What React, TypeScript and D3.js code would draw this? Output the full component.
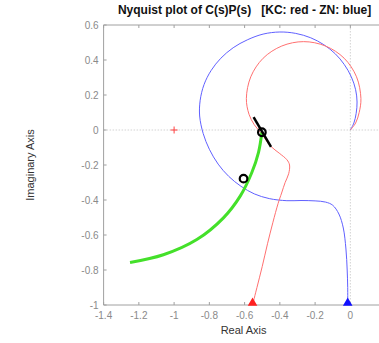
import React from "react";
import * as d3 from "d3";

const xTicks = [-1.4, -1.2, -1, -0.8, -0.6, -0.4, -0.2, 0];
const yTicks = [-1, -0.8, -0.6, -0.4, -0.2, 0, 0.2, 0.4, 0.6];

const blueX = [-0.015, -0.015, -0.018, -0.025, -0.04, -0.065, -0.1, -0.14, -0.2, -0.28, -0.36, -0.46, -0.545, -0.62, -0.69, -0.75, -0.8, -0.835, -0.855, -0.852, -0.83, -0.79, -0.735, -0.665, -0.585, -0.495, -0.4, -0.31, -0.225, -0.15, -0.085, -0.035, 0.005, 0.03, 0.038, 0.033, 0.02, 0];
const blueY = [-1.0, -0.9, -0.8, -0.68, -0.56, -0.48, -0.43, -0.412, -0.405, -0.403, -0.404, -0.392, -0.365, -0.322, -0.265, -0.195, -0.11, -0.02, 0.08, 0.17, 0.26, 0.34, 0.41, 0.47, 0.515, 0.548, 0.56, 0.552, 0.527, 0.487, 0.435, 0.375, 0.305, 0.23, 0.16, 0.095, 0.04, 0];

const redX = [-0.555, -0.53, -0.5, -0.47, -0.44, -0.41, -0.39, -0.37, -0.35, -0.345, -0.36, -0.4, -0.455, -0.502, -0.545, -0.575, -0.59, -0.565, -0.495, -0.389, -0.265, -0.141, -0.035, 0.035, 0.06, 0.05, 0.03, 0];
const redY = [-1.0, -0.9, -0.78, -0.65, -0.53, -0.42, -0.36, -0.3, -0.25, -0.2, -0.17, -0.135, -0.09, -0.023, 0.03, 0.09, 0.18, 0.304, 0.41, 0.48, 0.505, 0.48, 0.41, 0.304, 0.18, 0.1, 0.04, 0];

const greenX = [-1.25, -1.061, -0.871, -0.72, -0.625, -0.559, -0.521, -0.502];
const greenY = [-0.757, -0.713, -0.626, -0.502, -0.378, -0.243, -0.128, -0.013];

const circleX = [-0.502, -0.606];
const circleY = [-0.013, -0.278];
const segX = [-0.549, -0.45];
const segY = [0.073, -0.096];
const critX = [-1];
const critY = [0];
const startX = [-0.555, -0.015];
const startY = [-1, -1];
const startColor = ["#ff2020", "#1010ff"];

const W = 379, H = 343;
const L = 103.6, R = 385.6, T = 25, B = 305;

export default function App() {
  const x = d3.scaleLinear().domain([-1.4, 0.2]).range([L, R]);
  const y = d3.scaleLinear().domain([-1, 0.6]).range([B, T]);
  const line = d3.line<[number, number]>().x(d => x(d[0])).y(d => y(d[1])).curve(d3.curveCatmullRom.alpha(0.5));
  const pts = (xs: number[], ys: number[]) => xs.map((v, i) => [v, ys[i]] as [number, number]);
  const font = "Liberation Sans, Arial, Helvetica, sans-serif";
  const axisCol = "#a0a0a0";
  const labCol = "#8a8a8a";
  const tri = d3.symbol(d3.symbolTriangle, 40)();
  return (
    <svg width={W} height={H} style={{ position: "absolute", left: 0, top: 0, background: "#fff" }} fontFamily={font}>
      <defs>
        <clipPath id="clip"><rect x={L} y={T} width={R - L} height={B - T} /></clipPath>
      </defs>
      <line x1={x(0)} x2={x(0)} y1={T} y2={B} stroke="#c8c8c8" strokeDasharray="1.5,1.5" strokeWidth={0.8} />
      <line x1={L} x2={R} y1={y(0)} y2={y(0)} stroke="#c8c8c8" strokeDasharray="1.5,1.5" strokeWidth={0.8} />
      <line x1={L} x2={R} y1={B} y2={B} stroke={axisCol} strokeWidth={1} />
      <line x1={L} x2={R} y1={T} y2={T} stroke={axisCol} strokeWidth={1} />
      <line x1={L} x2={L} y1={T} y2={B} stroke={axisCol} strokeWidth={1} />
      {xTicks.map(t => (
        <g key={"x" + t}>
          <line x1={x(t)} x2={x(t)} y1={B} y2={B - 3} stroke={axisCol} />
          <line x1={x(t)} x2={x(t)} y1={T} y2={T + 3} stroke={axisCol} />
          <text x={x(t)} y={B + 14} fontSize={10} fill={labCol} textAnchor="middle">{String(t)}</text>
        </g>
      ))}
      {yTicks.map(t => (
        <g key={"y" + t}>
          <line x1={L} x2={L + 3} y1={y(t)} y2={y(t)} stroke={axisCol} />
          <text x={L - 5} y={y(t) + 3.5} fontSize={10} fill={labCol} textAnchor="end">{String(t)}</text>
        </g>
      ))}
      <g clipPath="url(#clip)">
        <path d={line(pts(blueX, blueY)) || ""} fill="none" stroke="#6060ff" strokeWidth={1} />
        <path d={line(pts(redX, redY)) || ""} fill="none" stroke="#ff7070" strokeWidth={1} />
        <path d={line(pts(greenX, greenY)) || ""} fill="none" stroke="#44e02a" strokeWidth={3} />
        <line x1={x(segX[0])} y1={y(segY[0])} x2={x(segX[1])} y2={y(segY[1])} stroke="#000" strokeWidth={2.5} />
        {circleX.map((cx, i) => (
          <circle key={i} cx={x(cx)} cy={y(circleY[i])} r={3.8} fill="none" stroke="#000" strokeWidth={2.2} />
        ))}
        {critX.map((cx, i) => (
          <g key={"c" + i} stroke="#ff4040" strokeWidth={1}>
            <line x1={x(cx) - 3.5} x2={x(cx) + 3.5} y1={y(critY[i])} y2={y(critY[i])} />
            <line x1={x(cx)} x2={x(cx)} y1={y(critY[i]) - 3.5} y2={y(critY[i]) + 3.5} />
          </g>
        ))}
      </g>
      {startX.map((sx, i) => (
        <path key={"s" + i} d={tri || ""} transform={`translate(${x(sx)},${y(startY[i]) - 2})`} fill={startColor[i]} />
      ))}
      <text x={(L + R) / 2} y={14} fontSize={12} fontWeight="bold" textAnchor="middle" fill="#111">{"Nyquist plot of C(s)P(s)\u00a0\u00a0\u00a0[KC: red - ZN: blue]"}</text>
      <text x={(L + R) / 2 - 1} y={B + 29} fontSize={11} textAnchor="middle" fill="#333">Real Axis</text>
      <text transform={`translate(34,${(T + B) / 2}) rotate(-90)`} fontSize={11} textAnchor="middle" fill="#333">Imaginary Axis</text>
    </svg>
  );
}
